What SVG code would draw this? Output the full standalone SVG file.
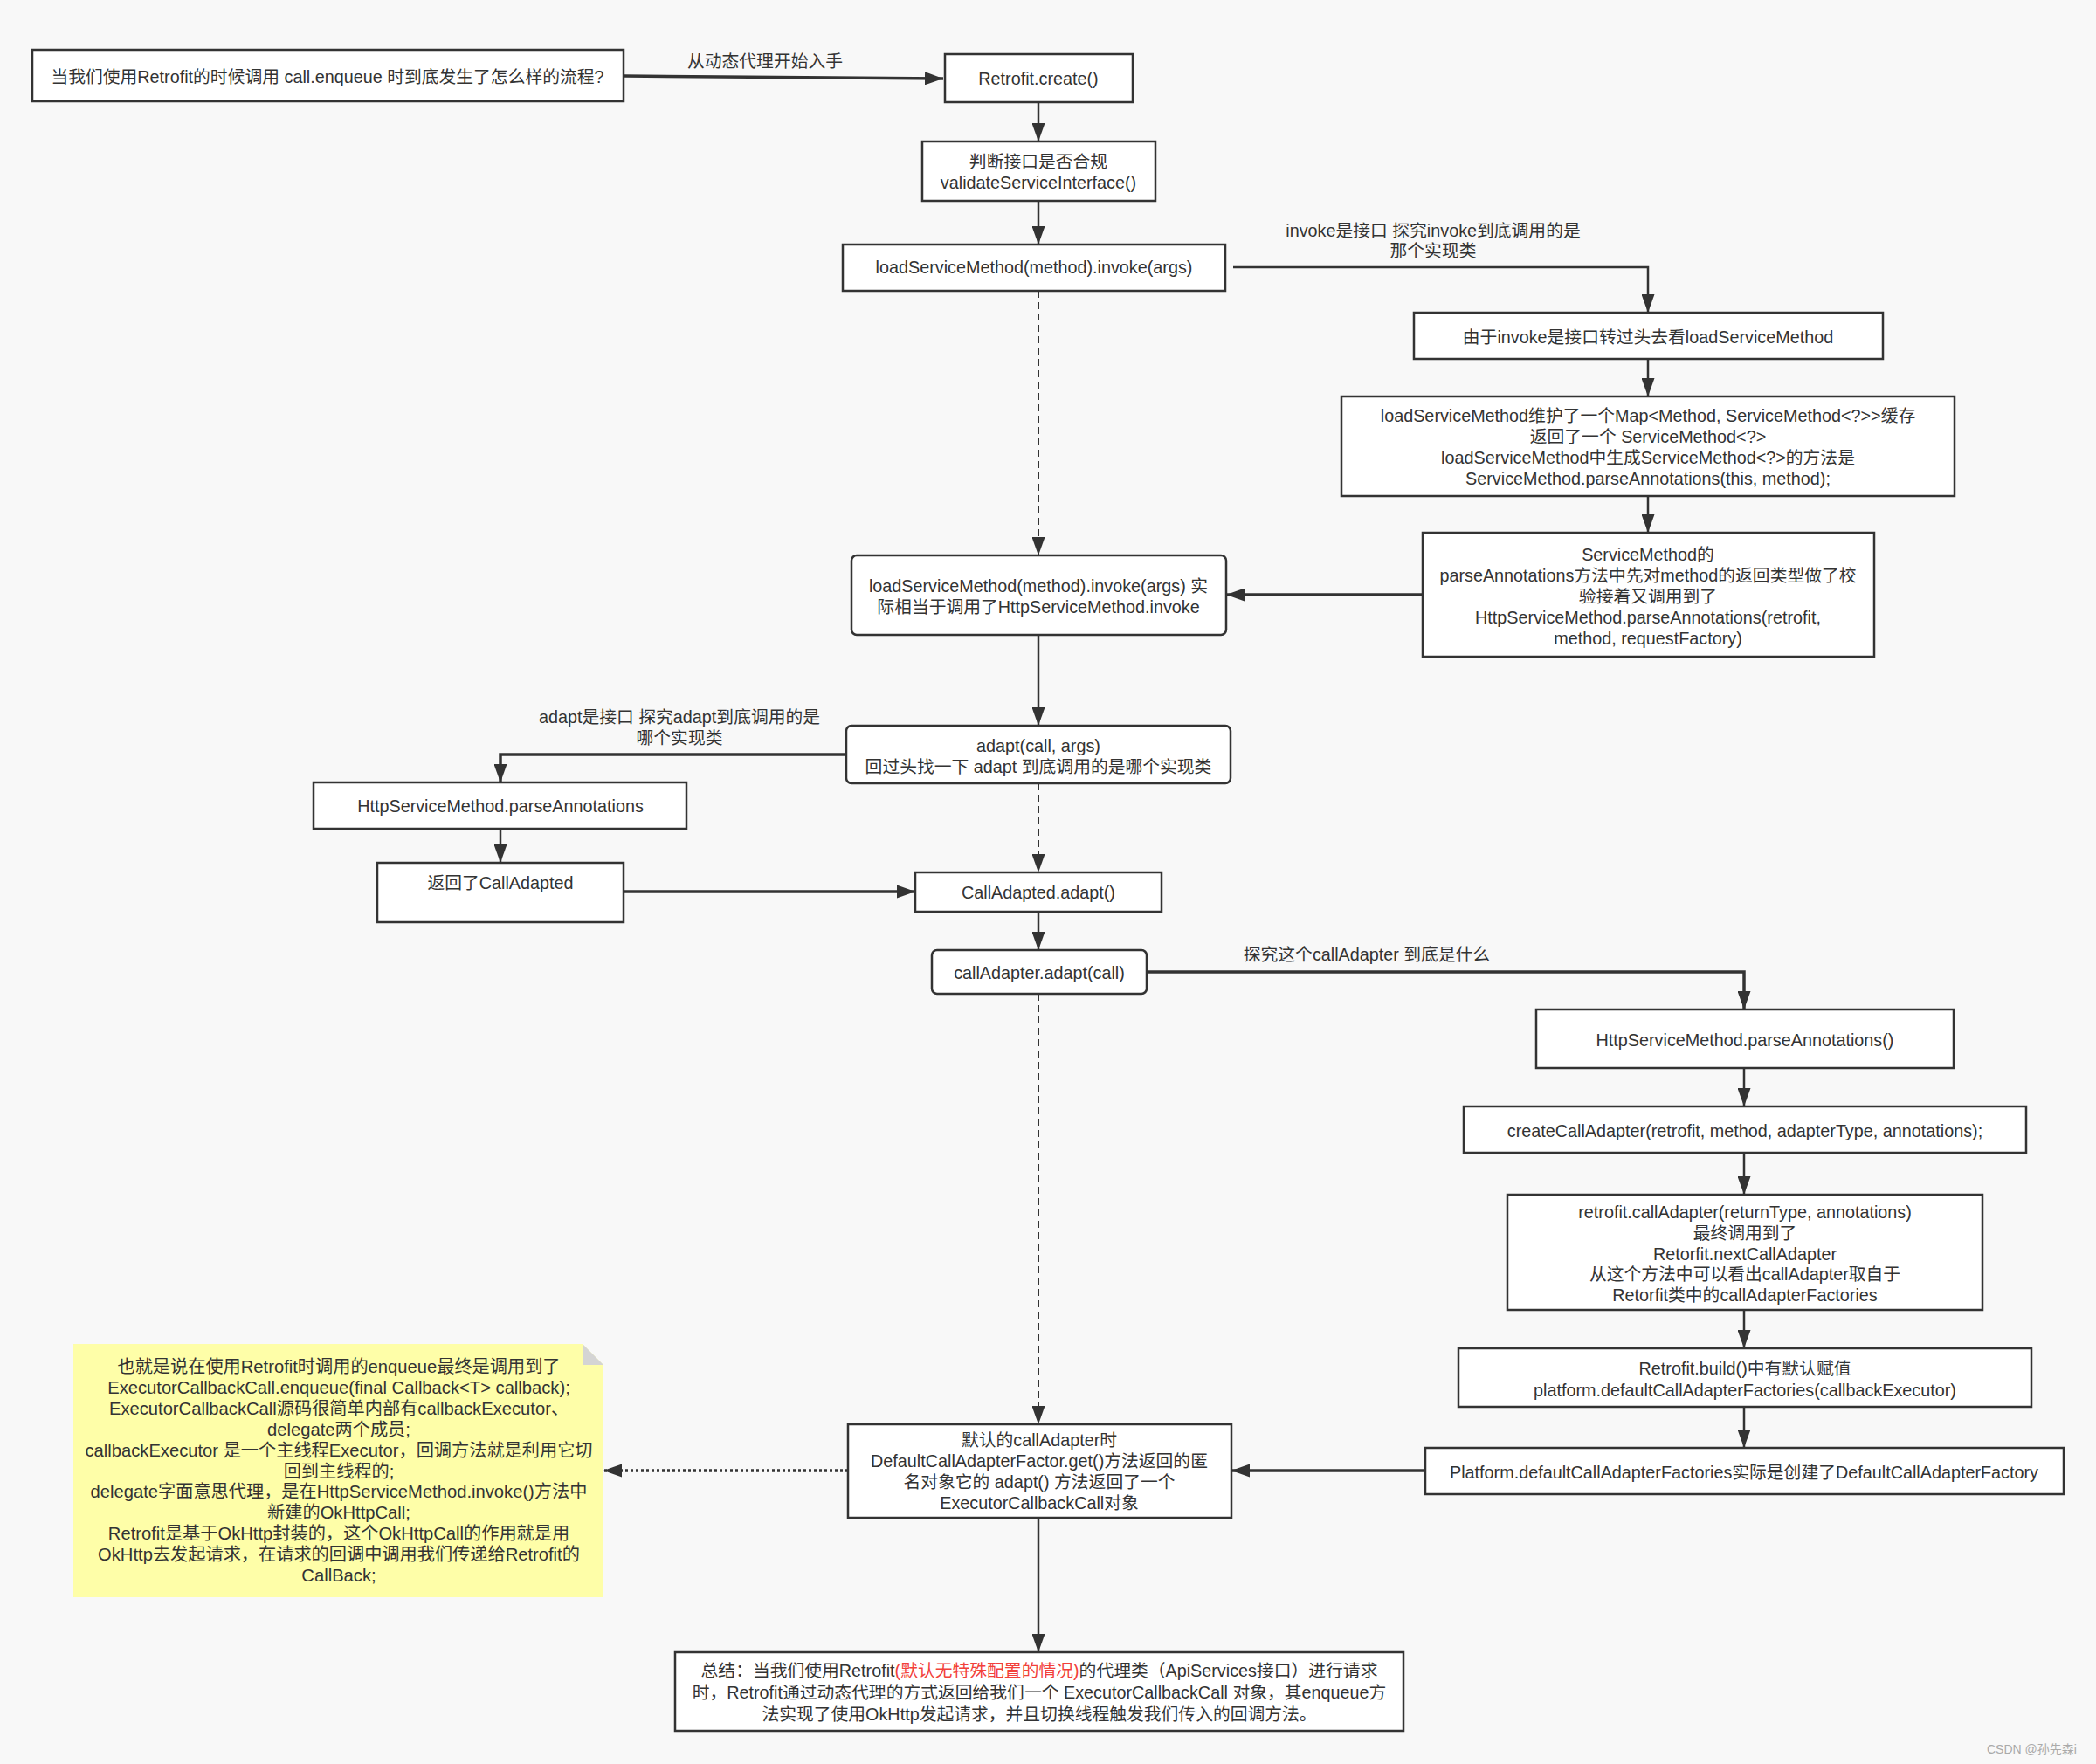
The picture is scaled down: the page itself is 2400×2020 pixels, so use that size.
<svg xmlns="http://www.w3.org/2000/svg" width="2400" height="2020" viewBox="0 0 2400 2020">
<style>
.t{font-family:"Liberation Sans","Noto Sans CJK SC",sans-serif;font-size:19.8px;fill:#333;text-anchor:middle;dominant-baseline:central}
.n{font-size:20.2px}
.b{fill:#fff;stroke:#333;stroke-width:2.5}
.e{fill:none;stroke:#333;stroke-width:2.5}
.k{fill:none;stroke:#333;stroke-width:3.5}
.d{fill:none;stroke:#333;stroke-width:2;stroke-dasharray:8 5}
.o{fill:none;stroke:#333;stroke-width:3.5;stroke-dasharray:3 3}
.red{fill:#f2403a}
.wm{font-family:"Liberation Sans","Noto Sans CJK SC",sans-serif;font-size:14px;fill:#aaa}
</style>
<defs>
<marker id="a" markerUnits="userSpaceOnUse" markerWidth="21" markerHeight="15" refX="21" refY="7.5" orient="auto">
<path d="M0,0 L21,7.5 L0,15 z" fill="#333"/>
</marker>
</defs>
<rect width="2400" height="2020" fill="#f8f8f8"/>

<g id="connectors">
<path class="k" d="M715,87 L1080,90" marker-end="url(#a)"/>
<path class="e" d="M1189,117 V162" marker-end="url(#a)"/>
<path class="e" d="M1189,230 V280" marker-end="url(#a)"/>
<path class="e" d="M1412,306 H1887 V358" marker-end="url(#a)"/>
<path class="e" d="M1887,411 V454" marker-end="url(#a)"/>
<path class="e" d="M1887,568 V610" marker-end="url(#a)"/>
<path class="k" d="M1629,681 H1404" marker-end="url(#a)"/>
<path class="d" d="M1189,333 V636" marker-end="url(#a)"/>
<path class="e" d="M1189,727 V831" marker-end="url(#a)"/>
<path class="k" d="M969,864 H573 V896" marker-end="url(#a)"/>
<path class="e" d="M573,949 V988" marker-end="url(#a)"/>
<path class="k" d="M714,1021 H1048" marker-end="url(#a)"/>
<path class="d" d="M1189,897 V999" marker-end="url(#a)"/>
<path class="e" d="M1189,1044 V1088" marker-end="url(#a)"/>
<path class="k" d="M1313,1113 H1997 V1156" marker-end="url(#a)"/>
<path class="e" d="M1997,1223 V1267" marker-end="url(#a)"/>
<path class="e" d="M1997,1320 V1368" marker-end="url(#a)"/>
<path class="e" d="M1997,1500 V1544" marker-end="url(#a)"/>
<path class="e" d="M1997,1611 V1658" marker-end="url(#a)"/>
<path class="k" d="M1632,1684 H1410" marker-end="url(#a)"/>
<path class="d" d="M1189,1138 V1631" marker-end="url(#a)"/>
<path class="o" d="M971,1684 H691" marker-end="url(#a)"/>
<path class="e" d="M1189,1738 V1892" marker-end="url(#a)"/>
<text class="t" x="876" y="70">从动态代理开始入手</text>
<text class="t" x="1641" y="264">invoke是接口 探究invoke到底调用的是</text>
<text class="t" x="1641" y="287">那个实现类</text>
<text class="t" x="778" y="821">adapt是接口 探究adapt到底调用的是</text>
<text class="t" x="778" y="845">哪个实现类</text>
<text class="t" x="1565" y="1093">探究这个callAdapter 到底是什么</text>
</g>

<g id="n1"><rect class="b" x="37" y="57" width="677" height="59"/>
<text class="t" x="375" y="88">当我们使用Retrofit的时候调用 call.enqueue 时到底发生了怎么样的流程?</text></g>

<g id="n2"><rect class="b" x="1082" y="62" width="215" height="55"/>
<text class="t" x="1189" y="90">Retrofit.create()</text></g>

<g id="n3"><rect class="b" x="1056" y="162" width="267" height="68"/>
<text class="t" x="1189" y="185">判断接口是否合规</text>
<text class="t" x="1189" y="209">validateServiceInterface()</text></g>

<g id="n4"><rect class="b" x="965" y="280" width="438" height="53"/>
<text class="t" x="1184" y="306">loadServiceMethod(method).invoke(args)</text></g>

<g id="n5"><rect class="b" x="1619" y="358" width="537" height="53"/>
<text class="t" x="1887" y="386">由于invoke是接口转过头去看loadServiceMethod</text></g>

<g id="n6"><rect class="b" x="1536" y="454" width="702" height="114"/>
<text class="t" x="1887" y="476">loadServiceMethod维护了一个Map&lt;Method, ServiceMethod&lt;?&gt;&gt;缓存</text>
<text class="t" x="1887" y="500">返回了一个 ServiceMethod&lt;?&gt;</text>
<text class="t" x="1887" y="524">loadServiceMethod中生成ServiceMethod&lt;?&gt;的方法是</text>
<text class="t" x="1887" y="548">ServiceMethod.parseAnnotations(this, method);</text></g>

<g id="n7"><rect class="b" x="1629" y="610" width="517" height="142"/>
<text class="t" x="1887" y="635">ServiceMethod的</text>
<text class="t" x="1887" y="659">parseAnnotations方法中先对method的返回类型做了校</text>
<text class="t" x="1887" y="683">验接着又调用到了</text>
<text class="t" x="1887" y="707">HttpServiceMethod.parseAnnotations(retrofit,</text>
<text class="t" x="1887" y="731">method, requestFactory)</text></g>

<g id="n8"><rect class="b" x="975" y="636" width="429" height="91" rx="6"/>
<text class="t" x="1189" y="671">loadServiceMethod(method).invoke(args) 实</text>
<text class="t" x="1189" y="695">际相当于调用了HttpServiceMethod.invoke</text></g>

<g id="n9"><rect class="b" x="969" y="831" width="440" height="66" rx="6"/>
<text class="t" x="1189" y="854">adapt(call, args)</text>
<text class="t" x="1189" y="878">回过头找一下 adapt 到底调用的是哪个实现类</text></g>

<g id="n10"><rect class="b" x="359" y="896" width="427" height="53"/>
<text class="t" x="573" y="923">HttpServiceMethod.parseAnnotations</text></g>

<g id="n11"><rect class="b" x="432" y="988" width="282" height="68"/>
<text class="t" x="573" y="1011">返回了CallAdapted</text></g>

<g id="n12"><rect class="b" x="1048" y="999" width="282" height="45"/>
<text class="t" x="1189" y="1022">CallAdapted.adapt()</text></g>

<g id="n13"><rect class="b" x="1067" y="1088" width="246" height="50" rx="6"/>
<text class="t" x="1190" y="1114">callAdapter.adapt(call)</text></g>

<g id="n14"><rect class="b" x="1759" y="1156" width="478" height="67"/>
<text class="t" x="1998" y="1191">HttpServiceMethod.parseAnnotations()</text></g>

<g id="n15"><rect class="b" x="1676" y="1267" width="644" height="53"/>
<text class="t" x="1998" y="1295">createCallAdapter(retrofit, method, adapterType, annotations);</text></g>

<g id="n16"><rect class="b" x="1726" y="1368" width="544" height="132"/>
<text class="t" x="1998" y="1388">retrofit.callAdapter(returnType, annotations)</text>
<text class="t" x="1998" y="1412">最终调用到了</text>
<text class="t" x="1998" y="1436">Retorfit.nextCallAdapter</text>
<text class="t" x="1998" y="1459">从这个方法中可以看出callAdapter取自于</text>
<text class="t" x="1998" y="1483">Retorfit类中的callAdapterFactories</text></g>

<g id="n17"><rect class="b" x="1670" y="1544" width="656" height="67"/>
<text class="t" x="1998" y="1567">Retrofit.build()中有默认赋值</text>
<text class="t" x="1998" y="1592">platform.defaultCallAdapterFactories(callbackExecutor)</text></g>

<g id="n18"><rect class="b" x="1632" y="1658" width="731" height="53"/>
<text class="t" x="1997" y="1686">Platform.defaultCallAdapterFactories实际是创建了DefaultCallAdapterFactory</text></g>

<g id="n19"><rect class="b" x="971" y="1631" width="439" height="107"/>
<text class="t" x="1190" y="1649">默认的callAdapter时</text>
<text class="t" x="1190" y="1673">DefaultCallAdapterFactor.get()方法返回的匿</text>
<text class="t" x="1190" y="1697">名对象它的 adapt() 方法返回了一个</text>
<text class="t" x="1190" y="1721">ExecutorCallbackCall对象</text></g>

<g id="n20"><rect class="b" x="773" y="1892" width="834" height="90"/>
<text class="t" x="1190" y="1913">总结：当我们使用Retrofit<tspan class="red">(默认无特殊配置的情况)</tspan>的代理类（ApiServices接口）进行请求</text>
<text class="t" x="1190" y="1938">时，Retrofit通过动态代理的方式返回给我们一个 ExecutorCallbackCall 对象，其enqueue方</text>
<text class="t" x="1190" y="1963">法实现了使用OkHttp发起请求，并且切换线程触发我们传入的回调方法。</text></g>

<g id="note">
<path d="M84,1539 H667 L691,1563 V1829 H84 Z" fill="#fefea8"/>
<path d="M667,1539 L691,1563 H667 Z" fill="#d4d4d4"/>
<text class="t n" x="388" y="1565">也就是说在使用Retrofit时调用的enqueue最终是调用到了</text>
<text class="t n" x="388" y="1589">ExecutorCallbackCall.enqueue(final Callback&lt;T&gt; callback);</text>
<text class="t n" x="388" y="1613">ExecutorCallbackCall源码很简单内部有callbackExecutor、</text>
<text class="t n" x="388" y="1637">delegate两个成员;</text>
<text class="t n" x="388" y="1661">callbackExecutor 是一个主线程Executor，回调方法就是利用它切</text>
<text class="t n" x="388" y="1685">回到主线程的;</text>
<text class="t n" x="388" y="1708">delegate字面意思代理，是在HttpServiceMethod.invoke()方法中</text>
<text class="t n" x="388" y="1732">新建的OkHttpCall;</text>
<text class="t n" x="388" y="1756">Retrofit是基于OkHttp封装的，这个OkHttpCall的作用就是用</text>
<text class="t n" x="388" y="1780">OkHttp去发起请求，在请求的回调中调用我们传递给Retrofit的</text>
<text class="t n" x="388" y="1804">CallBack;</text>
</g>

<text class="wm" x="2275" y="2008">CSDN @孙先森i</text>
</svg>
